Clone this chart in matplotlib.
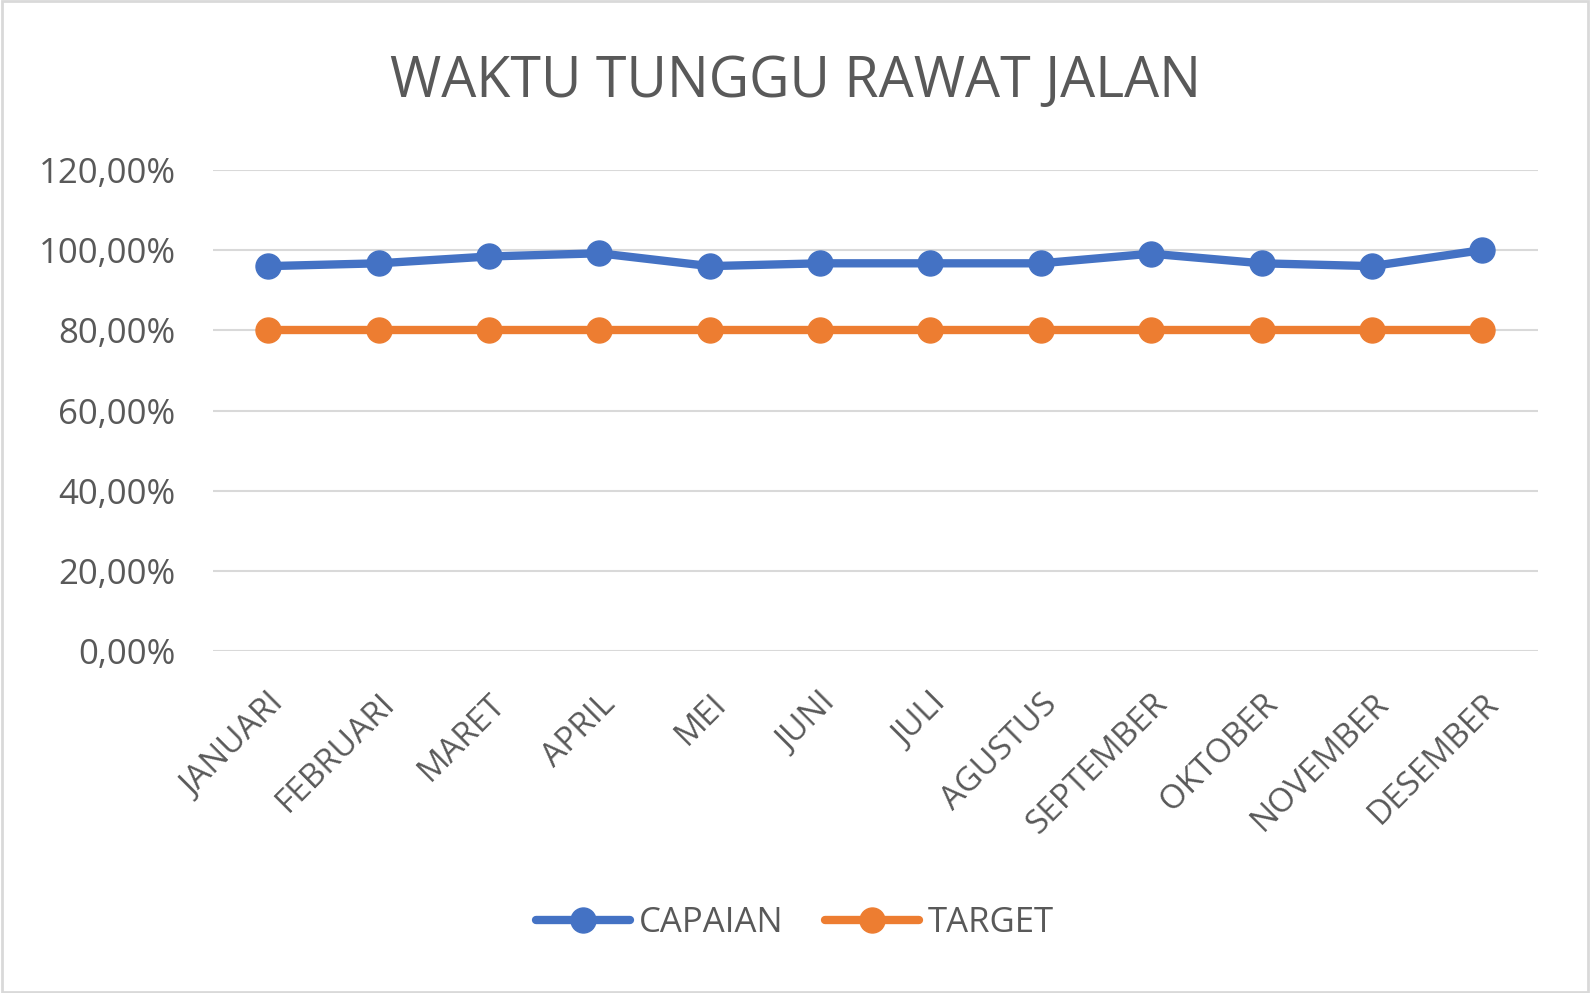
import matplotlib
matplotlib.use("Agg")
from matplotlib import pyplot as plt
from matplotlib.ticker import FuncFormatter
from matplotlib.patches import Rectangle

# Data
months = ["JANUARI", "FEBRUARI", "MARET", "APRIL", "MEI", "JUNI", "JULI",
          "AGUSTUS", "SEPTEMBER", "OKTOBER", "NOVEMBER", "DESEMBER"]
capaian = [0.96, 0.967, 0.984, 0.992, 0.96, 0.967, 0.967, 0.967, 0.991, 0.967, 0.96, 1.0]
target = [0.80] * 12
yticks = [0.0, 0.2, 0.4, 0.6, 0.8, 1.0, 1.2]

plt.rcParams['font.family'] = ['Open Sans', 'DejaVu Sans']
text_col = '#595959'

fig = plt.figure(figsize=(15.9, 9.93), dpi=100)
ax = fig.add_axes([0.134, 0.344, 0.833, 0.485])

x = list(range(len(months)))
ax.plot(x, capaian, color='#4472C4', lw=6, marker='o', ms=18, label='CAPAIAN',
        solid_capstyle='round', zorder=3)
ax.plot(x, target, color='#ED7D31', lw=6, marker='o', ms=18, label='TARGET',
        solid_capstyle='round', zorder=3)

ax.set_xlim(-0.5, len(months) - 0.5)
ax.set_ylim(0, 1.2)
ax.set_yticks(yticks)
ax.yaxis.set_major_formatter(FuncFormatter(lambda v, p: f"{v*100:.2f}%".replace('.', ',')))
ax.grid(axis='y', color='#D9D9D9', lw=1.5)
ax.set_axisbelow(True)
for s in ax.spines.values():
    s.set_visible(False)
ax.tick_params(axis='both', length=0, labelsize=24, labelcolor=text_col)
ax.tick_params(axis='y', labelsize=25, pad=27)
ax.set_xticks(x)
ax.set_xticklabels(months, rotation=45, ha='right', rotation_mode='anchor')
ax.tick_params(axis='x', pad=26)

fig.text(0.5, 0.917, 'WAKTU TUNGGU RAWAT JALAN', ha='center', va='center',
         fontsize=40, color=text_col)

leg = fig.legend(loc='center', bbox_to_anchor=(0.5, 0.07), ncol=2, frameon=False,
                 fontsize=25, labelcolor=text_col, handlelength=2.7, columnspacing=1.2,
                 handletextpad=0.25)

fig.patches.append(Rectangle((0.001, 0.001), 0.998, 0.998, transform=fig.transFigure,
                             fill=False, edgecolor='#D9D9D9', lw=2))

fig.savefig('out.png', dpi=100)
